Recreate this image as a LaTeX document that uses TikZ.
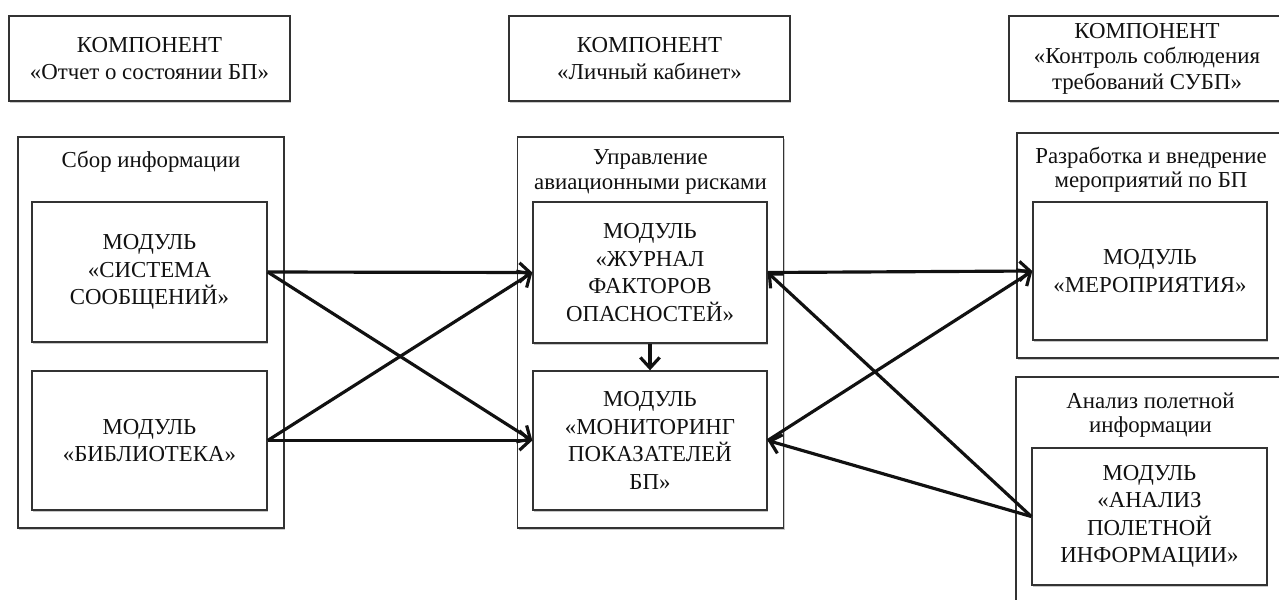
\documentclass[tikz,border=0pt]{standalone}
\usepackage{fontspec}
\setmainfont{Liberation Serif}
\definecolor{ink}  {HTML}{111111}
\definecolor{frame}{HTML}{333333}
\usetikzlibrary{positioning,arrows.meta,shadows}
\tikzset{
  softshadow/.style={drop shadow={shadow xshift=0.7pt,shadow yshift=-1pt,
                     opacity=0.3,fill=black!70}},
  compbox/.style={draw=frame,line width=0.8pt,fill=white,inner sep=0pt,
                  minimum height=1.7cm,align=center,text=ink,softshadow,
                  font=\fontsize{13}{15}\selectfont},
  groupbox/.style={draw=frame,line width=0.8pt,fill=white,inner sep=0pt,
                   softshadow},
  grouptitle/.style={inner sep=0pt,align=center,text=ink,
                     font=\fontsize{13}{14}\selectfont},
  modbox/.style={draw=frame,line width=0.8pt,fill=white,inner sep=0pt,
                 align=center,text=ink,softshadow,
                 font=\fontsize{13}{15.6}\selectfont},
  flow/.style={-{Straight Barb[length=6pt,width=11pt]},line width=1.8pt,
               draw=ink}
}
\begin{document}
\begin{tikzpicture}[x=0.02cm,y=-0.02cm]
  \useasboundingbox (0,0) rectangle (1279,599);
  \node[groupbox,minimum width=5.32cm,minimum height=7.82cm] (grpInfo)   at (151,332.5) {};
  \node[groupbox,minimum width=5.32cm,minimum height=7.82cm] (grpRisk)   at (650.5,332.5) {};
  \node[groupbox,minimum width=5.36cm,minimum height=4.5cm]  (grpMeas)   at (1151,245.5) {};
  \node[groupbox,minimum width=5.38cm,minimum height=5.26cm] (grpFlight) at (1150.5,508.5) {};

  \node[grouptitle,below=8.5pt of grpInfo.north]   (ttlInfo)   {Сбор информации};
  \node[grouptitle,below=7.5pt of grpRisk.north]   (ttlRisk)   {Управление\\авиационными рисками};
  \node[grouptitle,below=8pt of grpMeas.north]     (ttlMeas)   {Разработка и внедрение\\мероприятий по БП};
  \node[grouptitle,below=9pt of grpFlight.north]   (ttlFlight) {Анализ полетной\\информации};

  \node[compbox,minimum width=5.62cm] (cmpReport)  at (149.5,58.5) {КОМПОНЕНТ\\«Отчет о состоянии БП»};
  \node[compbox,minimum width=5.62cm] (cmpCabinet) at (649.5,58.5) {КОМПОНЕНТ\\«Личный кабинет»};
  \node[compbox,minimum width=5.52cm,font=\fontsize{13}{14.5}\selectfont]
        (cmpControl) at (1147,58.5) {КОМПОНЕНТ\\«Контроль соблюдения\\требований СУБП»};

  \node[modbox,minimum width=4.7cm,minimum height=2.8cm]   (modMsg) at (149.5,272)   {МОДУЛЬ\\«СИСТЕМА\\СООБЩЕНИЙ»};
  \node[modbox,minimum width=4.7cm,minimum height=2.78cm]  (modLib) at (149.5,440.5) {МОДУЛЬ\\«БИБЛИОТЕКА»};
  \node[modbox,minimum width=4.68cm,minimum height=2.82cm] (modHaz) at (650,272.5)   {МОДУЛЬ\\«ЖУРНАЛ\\ФАКТОРОВ\\ОПАСНОСТЕЙ»};
  \node[modbox,minimum width=4.68cm,minimum height=2.78cm] (modMon) at (650,440.5)   {МОДУЛЬ\\«МОНИТОРИНГ\\ПОКАЗАТЕЛЕЙ\\БП»};
  \node[modbox,minimum width=4.68cm,minimum height=2.76cm] (modAct) at (1150,271)    {МОДУЛЬ\\«МЕРОПРИЯТИЯ»};
  \node[modbox,minimum width=4.7cm,minimum height=2.74cm]  (modFda) at (1149.5,516.5) {МОДУЛЬ\\«АНАЛИЗ\\ПОЛЕТНОЙ\\ИНФОРМАЦИИ»};

  \draw[flow] (modMsg.east) -- (modHaz.west);
  \draw[flow] (modMsg.east) -- (modMon.west);
  \draw[flow] (modLib.east) -- (modHaz.west);
  \draw[flow] (modLib.east) -- (modMon.west);
  \draw[flow] (modHaz.south) -- (modMon.north);
  \draw[flow] (modHaz.east) -- (modAct.west);
  \draw[flow] (modMon.east) -- (modAct.west);
  \draw[flow] (modFda.west) -- (modHaz.east);
  \draw[flow] (modFda.west) -- (modMon.east);
\end{tikzpicture}
\end{document}
